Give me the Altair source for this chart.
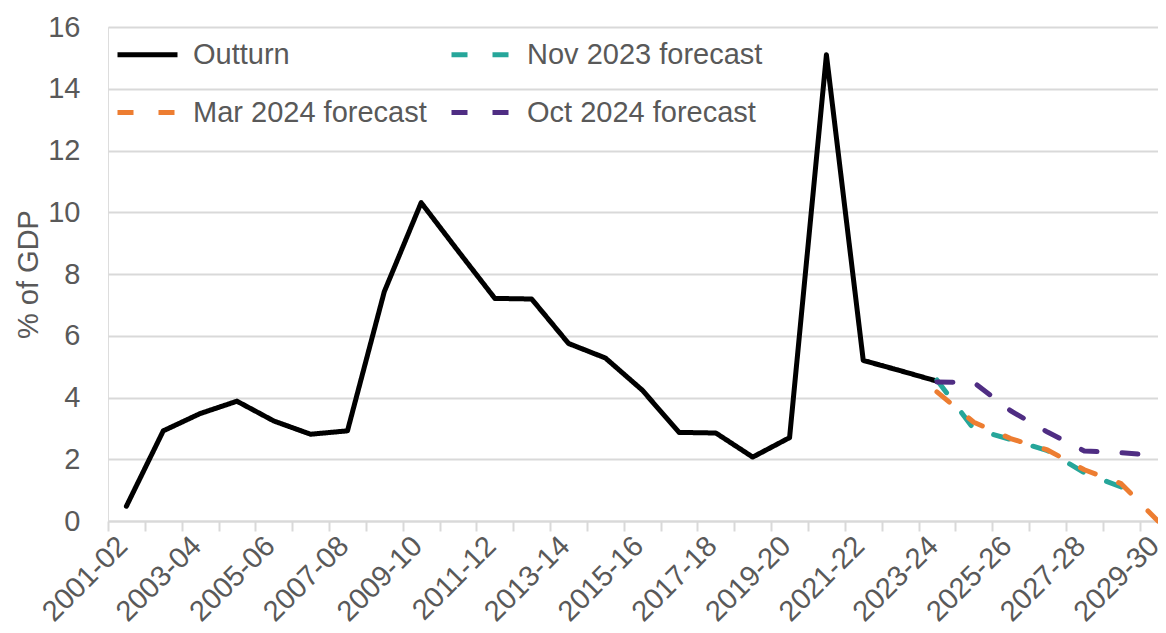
import json
import altair as alt
import pandas as pd

categories = ["2001-02", "2002-03", "2003-04", "2004-05", "2005-06", "2006-07",
              "2007-08", "2008-09", "2009-10", "2010-11", "2011-12", "2012-13",
              "2013-14", "2014-15", "2015-16", "2016-17", "2017-18", "2018-19",
              "2019-20", "2020-21", "2021-22", "2022-23", "2023-24", "2024-25",
              "2025-26", "2026-27", "2027-28", "2028-29", "2029-30"]

outturn = [0.48, 2.92, 3.48, 3.88, 3.24, 2.81, 2.92, 7.43, 10.31, 8.75, 7.21,
           7.19, 5.75, 5.28, 4.24, 2.87, 2.85, 2.07, 2.70, 15.10, 5.20, 4.87, 4.53]
nov2023 = [4.57, 2.98, 2.64, 2.28, 1.56, 1.10]
mar2024 = [4.18, 3.20, 2.67, 2.30, 1.66, 1.21, 0.00]
oct2024 = [4.50, 4.49, 3.57, 2.88, 2.27, 2.21, 2.12]

series_names = ["Outturn", "Nov 2023 forecast", "Mar 2024 forecast", "Oct 2024 forecast"]
series_start = ["2001-02", "2023-24", "2023-24", "2023-24"]
series_values = [outturn, nov2023, mar2024, oct2024]
series_colors = {"Outturn": "#000000", "Nov 2023 forecast": "#26A69A",
                 "Mar 2024 forecast": "#ED7D31", "Oct 2024 forecast": "#4F2D83"}
series_dashes = {"Outturn": [1, 0], "Nov 2023 forecast": [16, 25],
                 "Mar 2024 forecast": [16, 25], "Oct 2024 forecast": [16, 25]}
# legend is filled column by column: col 1 = Outturn, Mar 2024; col 2 = Nov 2023, Oct 2024
legend_order = ["Outturn", "Mar 2024 forecast", "Nov 2023 forecast", "Oct 2024 forecast"]

rows = []
for name, start, vals in zip(series_names, series_start, series_values):
    s = categories.index(start)
    for k, v in enumerate(vals):
        rows.append({"series": name, "year": categories[s + k], "idx": s + k, "value": v})
df = pd.DataFrame(rows)

FONT = "Liberation Sans"
GREY = "#595959"
GRID = "#D9D9D9"
N = len(categories)
step = 36.84
x_domain = [-0.5, 28.0]
plot_w = round((x_domain[1] - x_domain[0]) * step)

cats_js = json.dumps(categories)
label_expr = (f"(round(datum.value + 0.5) % 2 == 0) ? "
              f"{cats_js}[round(datum.value + 0.5)] : ''")

legend = alt.Legend(
    title=None, orient="none", legendX=7, legendY=-5, columns=2,
    columnPadding=14, rowPadding=10, padding=0,
    symbolType="stroke", symbolSize=3600, symbolStrokeWidth=5,
    labelFontSize=29, labelColor=GREY, labelFont=FONT, labelOffset=13, labelLimit=600,
)

x = alt.X(
    "idx:Q",
    scale=alt.Scale(domain=x_domain, nice=False, zero=False),
    axis=alt.Axis(
        title=None, values=[i - 0.5 for i in range(N)], labelExpr=label_expr,
        labelOffset=4.5, labelAngle=-45, labelAlign="right", labelBaseline="top",
        labelFontSize=29, labelFont=FONT, labelColor=GREY, labelPadding=0,
        labelOverlap=False, labelFlush=False, labelBound=False, grid=False,
        domainColor=GRID, domainWidth=2, tickColor=GRID, tickWidth=2, tickSize=10,
    ),
)
y = alt.Y(
    "value:Q",
    scale=alt.Scale(domain=[0, 16], nice=False),
    axis=alt.Axis(
        title="% of GDP", values=list(range(0, 17, 2)), grid=True, gridColor=GRID,
        gridWidth=2, domain=False, ticks=False, labelFontSize=29, labelFont=FONT,
        labelColor=GREY, labelPadding=28,
        titleFontSize=29, titleFont=FONT, titleColor=GREY, titleFontWeight="normal",
        titleX=-80, titleY=247, titleBaseline="middle", titleAlign="center",
    ),
)

base = alt.Chart(df).mark_line(strokeWidth=5, strokeCap="round", strokeJoin="round").encode(
    x=x,
    y=y,
    color=alt.Color("series:N", scale=alt.Scale(domain=legend_order,
                    range=[series_colors[s] for s in legend_order]), legend=legend),
    strokeDash=alt.StrokeDash("series:N", scale=alt.Scale(domain=legend_order,
                              range=[series_dashes[s] for s in legend_order]), legend=legend),
)

layers = [base.transform_filter(alt.datum.series == s) for s in series_names]

chart = alt.layer(*layers).properties(
    width=plot_w, height=494,
    autosize=alt.AutoSizeParams(type="none"),
    padding={"left": 100, "top": 19, "right": 0, "bottom": 132},
).configure_view(stroke=None).configure(background="white")

chart.save("out.html", embed_options={"renderer": "svg", "actions": False})
